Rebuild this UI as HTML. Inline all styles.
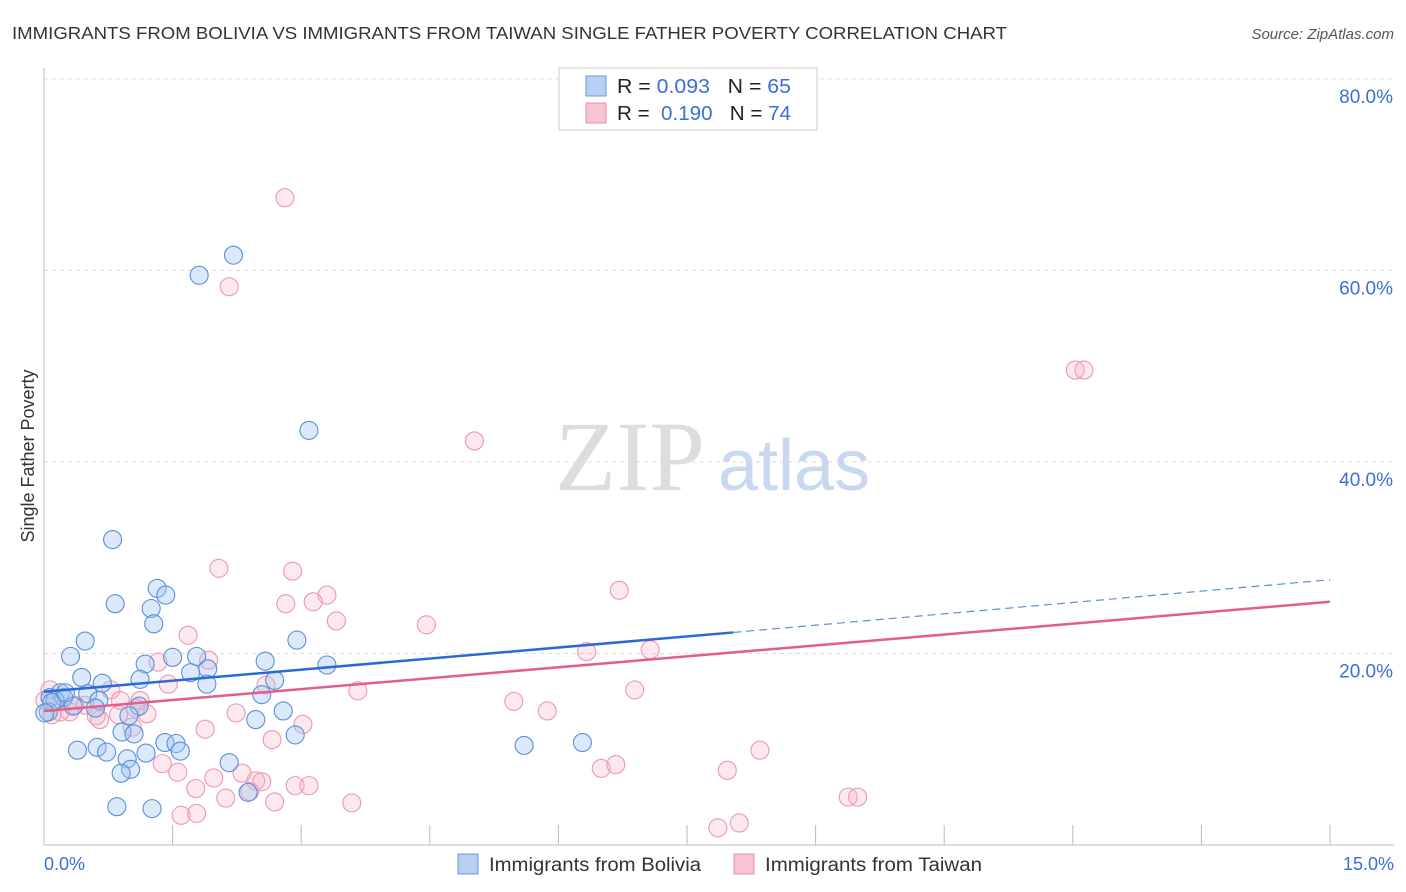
<!DOCTYPE html>
<html><head><meta charset="utf-8"><style>
body{margin:0;background:#fff;font-family:"Liberation Sans",sans-serif;}
#wrap{position:relative;width:1406px;height:892px;overflow:hidden;}
</style></head><body>
<div id="wrap">
<svg id="svg" width="1406" height="892" xmlns="http://www.w3.org/2000/svg">
<text x="12" y="39" font-size="17.5" fill="#333" textLength="995" lengthAdjust="spacingAndGlyphs">IMMIGRANTS FROM BOLIVIA VS IMMIGRANTS FROM TAIWAN SINGLE FATHER POVERTY CORRELATION CHART</text>
<text x="1394" y="39" font-size="15" fill="#555" font-style="italic" text-anchor="end">Source: ZipAtlas.com</text>
<text x="34" y="456" font-size="18" fill="#333" text-anchor="middle" transform="rotate(-90 34 456)">Single Father Poverty</text>
<text x="555" y="490" font-size="100" fill="#ddd" font-family="Liberation Serif">ZIP</text>
<text x="718" y="490" font-size="72" fill="#c8d8f0">atlas</text>
<g id="grid"></g><g id="pts"></g><g id="lines"></g>
<g>
<rect x="559" y="68" width="258" height="62" fill="#fff" stroke="#ccc"/>
<rect x="586" y="76" width="20" height="20" fill="#b8d0f4" stroke="#6b9ae0"/>
<rect x="586" y="103" width="20" height="20" fill="#f8c4d4" stroke="#e891ac"/>
<text x="617" y="93" font-size="20" fill="#222" textLength="174" lengthAdjust="spacingAndGlyphs">R = <tspan fill="#3a6fd6">0.093</tspan>&#160;&#160;&#160;N = <tspan fill="#3a6fd6">65</tspan></text>
<text x="617" y="120" font-size="20" fill="#222" textLength="174" lengthAdjust="spacingAndGlyphs">R = &#160;<tspan fill="#3a6fd6">0.190</tspan>&#160;&#160;&#160;N = <tspan fill="#3a6fd6">74</tspan></text>
</g>
<g>
<rect x="458" y="854" width="20" height="20" fill="#b8d0f4" stroke="#6b9ae0"/>
<text x="489" y="871" font-size="19" fill="#333" textLength="212" lengthAdjust="spacingAndGlyphs">Immigrants from Bolivia</text>
<rect x="734" y="854" width="20" height="20" fill="#f8c4d4" stroke="#e891ac"/>
<text x="765" y="871" font-size="19" fill="#333" textLength="217" lengthAdjust="spacingAndGlyphs">Immigrants from Taiwan</text>
</g>
<text x="44" y="870" font-size="18" fill="#3a6fd6">0.0%</text>
<text x="1394" y="870" font-size="18" fill="#3a6fd6" text-anchor="end">15.0%</text>
</svg></div>
<script>
const yTicks=[20,40,60,80];
const xTickVals=[0,1.5,3,4.5,6,7.5,9,10.5,12,13.5,15];
const blueX=[2.21,1.81,3.09,0.80,1.32,1.42,0.83,1.25,1.28,0.48,2.95,0.31,1.50,1.78,2.58,1.18,3.30,1.91,1.71,0.44,1.12,1.90,2.69,0.68,2.54,0.19,0.51,0.07,0.23,0.13,0.64,0.34,0.60,1.11,2.79,0.99,2.47,0.91,1.05,2.93,1.41,1.54,0.62,0.39,0.73,1.59,1.19,0.97,2.16,1.01,0.90,2.38,0.85,1.26,5.60,6.28,0.05,0.09,0.25,0.01];
const blueY=[61.6,59.5,43.3,31.9,26.8,26.1,25.2,24.7,23.1,21.3,21.4,19.7,19.6,19.7,19.2,18.9,18.8,18.4,18.0,17.5,17.3,16.8,17.2,16.9,15.7,15.9,15.8,15.4,15.4,15.1,15.1,14.5,14.3,14.5,14.0,13.5,13.1,11.8,11.6,11.5,10.7,10.6,10.2,9.9,9.7,9.8,9.6,9.0,8.6,7.9,7.5,5.5,4.0,3.8,10.4,10.7,13.9,14.9,15.9,13.8];
const pinkX=[2.81,2.16,12.03,12.13,5.02,2.04,2.90,6.71,3.30,2.82,3.14,3.41,4.46,1.68,6.33,7.07,1.33,1.92,1.45,3.66,6.89,2.59,0.78,5.48,5.87,2.24,1.20,0.61,0.87,1.07,3.02,1.88,1.03,2.66,1.56,1.38,2.31,2.47,2.54,1.98,2.93,3.09,1.77,2.12,2.69,3.59,6.50,6.67,7.97,8.35,9.38,9.49,7.86,8.11,1.60,1.78,2.40,0.30,0.19,0.07,0.01,0.09,0.36,0.48,0.65,0.89,1.12];
const pinkY=[67.6,58.3,49.6,49.6,42.2,28.9,28.6,26.6,26.1,25.2,25.4,23.4,23.0,21.9,20.2,20.4,19.1,19.3,16.8,16.1,16.2,16.7,16.2,15.0,14.0,13.8,13.7,13.5,13.6,14.3,12.6,12.1,12.3,11.0,7.6,8.5,7.5,6.7,6.6,7.0,6.2,6.2,5.9,4.9,4.5,4.4,8.0,8.4,7.8,9.9,5.0,5.0,1.8,2.3,3.1,3.3,5.6,13.9,13.9,16.2,15.1,13.6,14.6,14.6,13.1,15.1,15.1];
const blueFit=[16.0,22.2,27.7]; const blueFitX=[0,8.04,15];
const pinkFit=[14.0,25.4];
const NS='http://www.w3.org/2000/svg';
const X=v=>44+v/15*1286, Y=v=>845-v/20*191.5;
function mk(t,a,p){const e=document.createElementNS(NS,t);for(const k in a)e.setAttribute(k,a[k]);p.appendChild(e);return e;}
const g=document.getElementById('grid');
for(const t of yTicks){
 const l=mk('line',{x1:44,x2:1394,y1:Y(t),y2:Y(t),stroke:'#ddd','stroke-dasharray':'4,4'},g);
 
 
 const tx=mk('text',{x:1393,y:Y(t)+24,'font-size':19,fill:'#3a6fd6','text-anchor':'end'},g);
 tx.textContent=t.toFixed(1)+'%';
 
 
}
const ax=mk('line',{x1:44,x2:44,y1:68,y2:845,stroke:'#bbb'},g);


const bx=mk('line',{x1:44,x2:1394,y1:845,y2:845,stroke:'#bbb'},g);


for(const t of xTickVals){
 const tk=mk('line',{x1:X(t),x2:X(t),y1:825,y2:845,stroke:'#bbb'},g);
 
 
}
const P=document.getElementById('pts');
function pts(xs,ys,fill,stroke,name){for(let i=0;i<xs.length;i++){
 const c=mk('circle',{cx:X(xs[i]),cy:Y(ys[i]),r:9,fill:fill,stroke:stroke,'stroke-width':1.1},P);
 
 
}}
pts(pinkX,pinkY,'rgba(245,180,200,0.3)','#ec98b3','taiwan-point');
pts(blueX,blueY,'rgba(160,196,242,0.38)','#5b8fd8','bolivia-point');
const L=document.getElementById('lines');
const b1=mk('line',{x1:X(blueFitX[0]),y1:Y(blueFit[0]),x2:X(blueFitX[1]),y2:Y(blueFit[1]),stroke:'#2a6ad4','stroke-width':2.5},L);


const b2=mk('line',{x1:X(blueFitX[1]),y1:Y(blueFit[1]),x2:X(blueFitX[2]),y2:Y(blueFit[2]),stroke:'#5b8fd8','stroke-width':1.2,'stroke-dasharray':'8,5'},L);


const p1=mk('line',{x1:X(0),y1:Y(pinkFit[0]),x2:X(15),y2:Y(pinkFit[1]),stroke:'#e0608a','stroke-width':2.5},L);


</script>
</body></html>
